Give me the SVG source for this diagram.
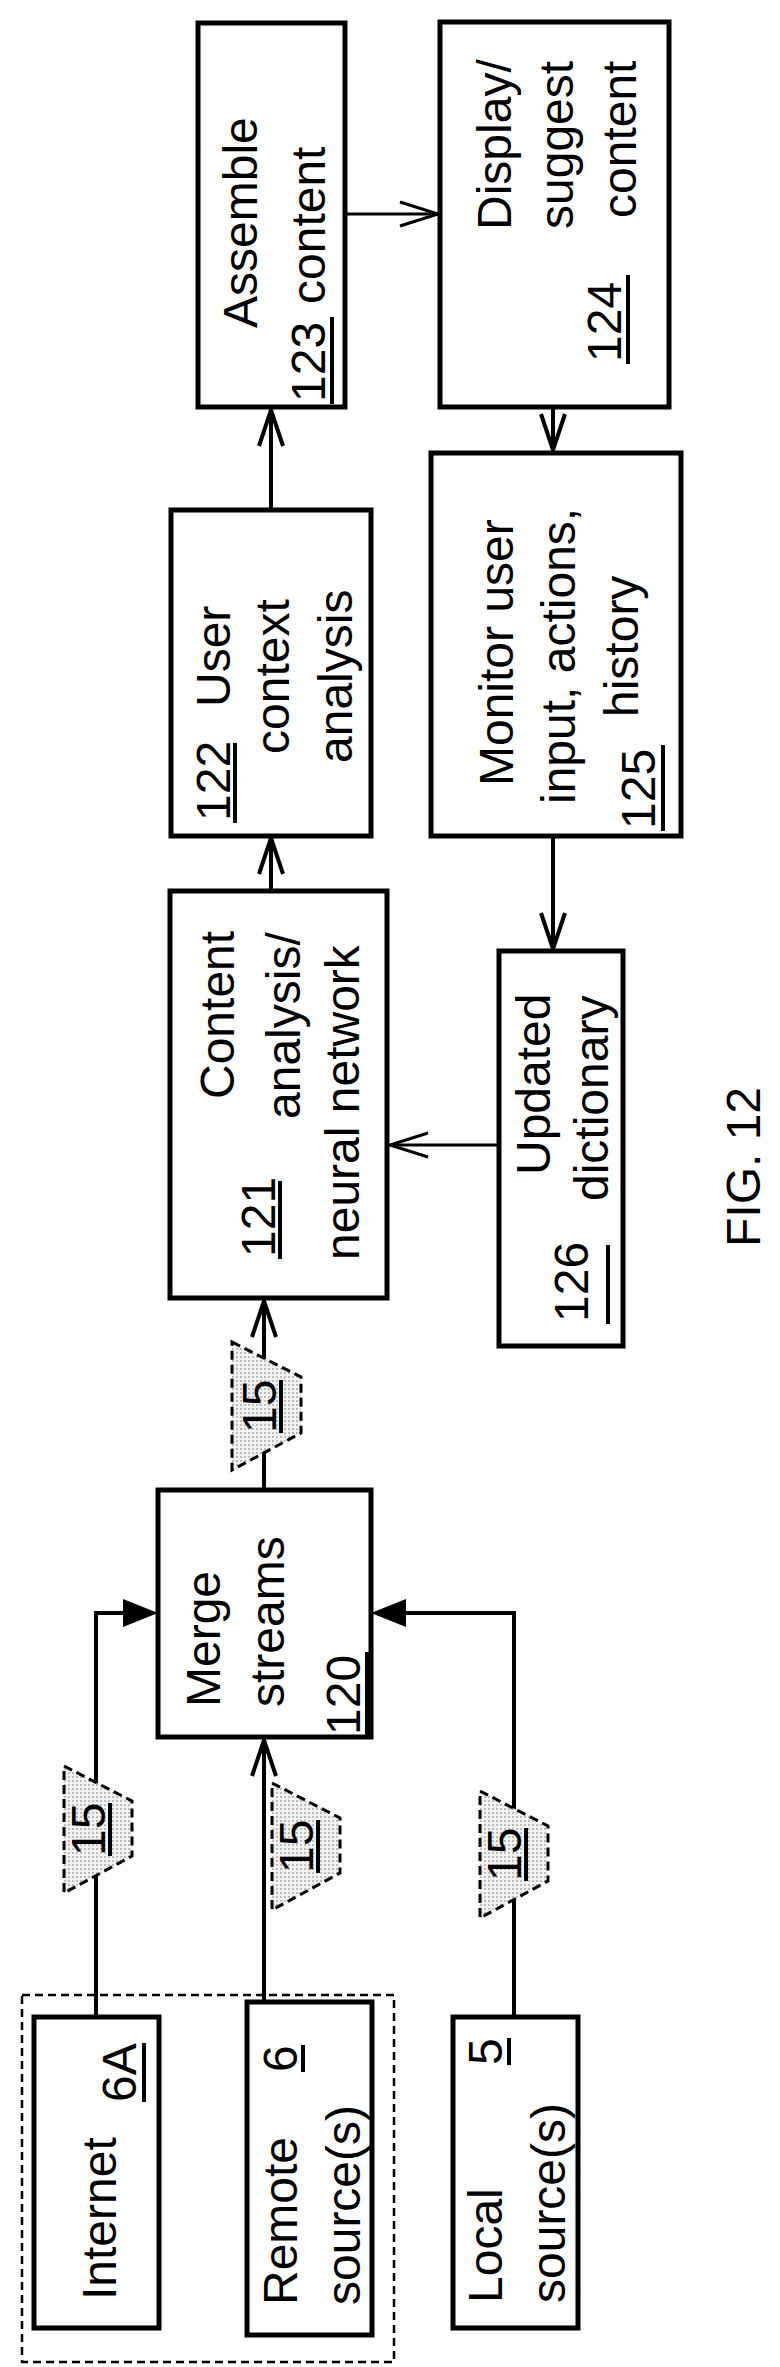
<svg xmlns="http://www.w3.org/2000/svg" width="780" height="2367" viewBox="0 0 780 2367">
<style>
.box{fill:#fff;stroke:#000;stroke-width:5}
.t{font-family:"Liberation Sans",Arial,sans-serif;font-size:48px;fill:#000}
.ln{stroke:#000;stroke-width:4;fill:none}
.thin{stroke:#000;stroke-width:3;fill:none}
.ul{stroke:#000;stroke-width:4}
.badge{fill:url(#dots);stroke:#000;stroke-width:3;stroke-dasharray:9 5}
</style>
<defs>
<pattern id="dots" width="4" height="4" patternUnits="userSpaceOnUse">
<rect width="4" height="4" fill="#f2f2f2"/>
<circle cx="1" cy="1" r="0.8" fill="#777"/>
</pattern>
</defs>
<rect x="22" y="1995" width="372" height="367" fill="none" stroke="#000" stroke-width="2.5" stroke-dasharray="8 5"/>
<g id="connectors">
<path class="ln" d="M96 2017 V1613 H125"/>
<path d="M158 1613 L123 1599 L123 1627 Z"/>
<path class="ln" d="M264 2002 V1740"/>
<path class="ln" d="M252 1776 L264 1740 L276 1776"/>
<path class="ln" d="M514 2017 V1613 H405"/>
<path d="M371 1613 L406 1599 L406 1627 Z"/>
<path class="ln" d="M264 1488 V1301"/>
<path class="ln" d="M252 1337 L264 1301 L276 1337"/>
<path class="ln" d="M271 891 V838"/>
<path class="ln" d="M259 874 L271 838 L283 874"/>
<path class="ln" d="M271 510 V410"/>
<path class="ln" d="M259 446 L271 410 L283 446"/>
<path class="thin" d="M346 214 H438"/>
<path class="thin" d="M400 202 L438 214 L400 226"/>
<path class="ln" d="M553 407 V450"/>
<path class="ln" d="M541 414 L553 450 L565 414"/>
<path class="ln" d="M553 836 V949"/>
<path class="ln" d="M541 913 L553 949 L565 913"/>
<path class="thin" d="M499 1145 H390"/>
<path class="thin" d="M428 1133 L390 1145 L428 1157"/>
</g>
<g id="badge-internet">
<polygon class="badge" points="64,1766 132,1801 132,1856 64,1893"/>
<text class="t" transform="translate(105,1856) rotate(-90)">15</text>
<line class="ul" x1="110" y1="1856" x2="110" y2="1803"/>
</g>
<g id="badge-remote">
<polygon class="badge" points="272,1783 340,1818 340,1873 272,1910"/>
<text class="t" transform="translate(313,1873) rotate(-90)">15</text>
<line class="ul" x1="318" y1="1873" x2="318" y2="1820"/>
</g>
<g id="badge-local">
<polygon class="badge" points="480,1791 548,1826 548,1881 480,1918"/>
<text class="t" transform="translate(521,1881) rotate(-90)">15</text>
<line class="ul" x1="526" y1="1881" x2="526" y2="1828"/>
</g>
<g id="badge-merge">
<polygon class="badge" points="232,1342 301,1377 301,1433 232,1470"/>
<text class="t" transform="translate(276,1433) rotate(-90)">15</text>
<line class="ul" x1="281" y1="1433" x2="281" y2="1380"/>
</g>
<g id="internet">
<rect class="box" x="34" y="2017" width="125" height="311"/>
<text class="t" transform="translate(116,2300) rotate(-90)">Internet</text>
<text class="t" transform="translate(136,2102) rotate(-90)">6A</text>
<line class="ul" x1="144" y1="2102" x2="144" y2="2043"/>
</g>
<g id="remote">
<rect class="box" x="247" y="2002" width="125" height="333"/>
<text class="t" transform="translate(297,2305) rotate(-90)">Remote</text>
<text class="t" transform="translate(297,2072) rotate(-90)">6</text>
<line class="ul" x1="303" y1="2072" x2="303" y2="2045"/>
<text class="t" transform="translate(360,2305) rotate(-90)">source(s)</text>
</g>
<g id="local">
<rect class="box" x="453" y="2017" width="125" height="311"/>
<text class="t" transform="translate(502,2303) rotate(-90)">Local</text>
<text class="t" transform="translate(502,2065) rotate(-90)">5</text>
<line class="ul" x1="509" y1="2065" x2="509" y2="2038"/>
<text class="t" transform="translate(565,2303) rotate(-90)">source(s)</text>
</g>
<g id="merge">
<rect class="box" x="158" y="1490" width="213" height="247"/>
<text class="t" transform="translate(220,1707) rotate(-90)">Merge</text>
<text class="t" transform="translate(284,1707) rotate(-90)">streams</text>
<text class="t" transform="translate(360,1735) rotate(-90)">120</text>
<line class="ul" x1="367" y1="1737" x2="367" y2="1652"/>
</g>
<g id="content-analysis">
<rect class="box" x="170" y="891" width="217" height="407"/>
<text class="t" transform="translate(234,1099) rotate(-90)">Content</text>
<text class="t" transform="translate(275,1257) rotate(-90)">121</text>
<line class="ul" x1="280" y1="1259" x2="280" y2="1181"/>
<text class="t" transform="translate(300,1119) rotate(-90)">analysis/</text>
<text class="t" transform="translate(359,1260) rotate(-90)">neural network</text>
</g>
<g id="user-context">
<rect class="box" x="171" y="510" width="200" height="326"/>
<text class="t" transform="translate(230,821) rotate(-90)">122</text>
<line class="ul" x1="235" y1="823" x2="235" y2="743"/>
<text class="t" transform="translate(230,707) rotate(-90)">User</text>
<text class="t" transform="translate(289,754) rotate(-90)">context</text>
<text class="t" transform="translate(352,763) rotate(-90)">analysis</text>
</g>
<g id="assemble">
<rect class="box" x="198" y="23" width="147" height="384"/>
<text class="t" transform="translate(257,328) rotate(-90)">Assemble</text>
<text class="t" transform="translate(325,402) rotate(-90)">123</text>
<line class="ul" x1="332" y1="404" x2="332" y2="317"/>
<text class="t" transform="translate(325,304) rotate(-90)">content</text>
</g>
<g id="display">
<rect class="box" x="440" y="22" width="229" height="385"/>
<text class="t" transform="translate(511,230) rotate(-90)">Display/</text>
<text class="t" transform="translate(573,229) rotate(-90)">suggest</text>
<text class="t" transform="translate(636,218) rotate(-90)">content</text>
<text class="t" transform="translate(621,362) rotate(-90)">124</text>
<line class="ul" x1="628" y1="364" x2="628" y2="275"/>
</g>
<g id="monitor">
<rect class="box" x="431" y="453" width="250" height="383"/>
<text class="t" transform="translate(513,786) rotate(-90)">Monitor user</text>
<text class="t" transform="translate(575,804) rotate(-90)">input, actions,</text>
<text class="t" transform="translate(638,717) rotate(-90)">history</text>
<text class="t" transform="translate(655,829) rotate(-90)">125</text>
<line class="ul" x1="663" y1="831" x2="663" y2="745"/>
</g>
<g id="dictionary">
<rect class="box" x="499" y="951" width="124" height="395"/>
<text class="t" transform="translate(550,1175) rotate(-90)">Updated</text>
<text class="t" transform="translate(608,1201) rotate(-90)">dictionary</text>
<text class="t" transform="translate(588,1322) rotate(-90)">126</text>
<line class="ul" x1="608" y1="1324" x2="608" y2="1245"/>
</g>
<text class="t" transform="translate(760,1247) rotate(-90)">FIG. 12</text>
</svg>
